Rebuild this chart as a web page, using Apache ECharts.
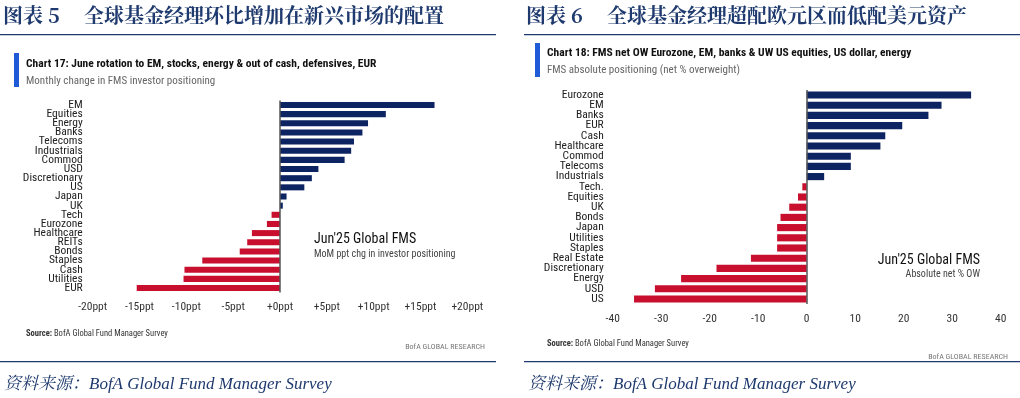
<!DOCTYPE html>
<html>
<head>
<meta charset="utf-8">
<script src="https://cdn.jsdelivr.net/npm/echarts@6/dist/echarts.min.js"></script>
<style>
  html, body { margin: 0; padding: 0; background: #fff; }
  #main { width: 1020px; height: 398px; }
</style>
</head>
<body>
<div id="main"></div>
<script>
// 图表5 数据：月度变化 (ppt)
var leftCats = ["EM", "Equities", "Energy", "Banks", "Telecoms", "Industrials", "Commod", "USD", "Discretionary", "US", "Japan", "UK", "Tech", "Eurozone", "Healthcare", "REITs", "Bonds", "Staples", "Cash", "Utilities", "EUR"];
var leftVals = [16.5, 11.3, 9.4, 8.8, 7.9, 7.6, 6.9, 4.1, 3.4, 2.6, 0.7, 0.3, -0.9, -1.4, -3.0, -3.5, -4.3, -8.3, -10.2, -10.3, -15.3];
var leftTicks = [-20, 20, 5];

// 图表6 数据：净超配比例 (%)
var rightCats = ["Eurozone", "EM", "Banks", "EUR", "Cash", "Healthcare", "Commod", "Telecoms", "Industrials", "Tech.", "Equities", "UK", "Bonds", "Japan", "Utilities", "Staples", "Real Estate", "Discretionary", "Energy", "USD", "US"];
var rightVals = [33.9, 27.8, 25.1, 19.7, 16.2, 15.2, 9.1, 9.1, 3.6, -0.9, -1.8, -3.6, -5.4, -6.1, -6.1, -6.1, -11.5, -18.6, -25.9, -31.3, -35.6];
var rightTicks = [-40, 40, 10];

(function() {
  var myChart = echarts.init(document.querySelector("#main"));

  var NAVY = "#0c2461";
  var RED = "#c8102e";
  var TITLE = "#1f3a6e";
  var narrow = "'Roboto Condensed', 'Roboto', sans-serif";
  var serifCn = "'Noto Serif CJK SC', 'Noto Sans CJK SC', serif";

  function barData(vals) {
    return vals.map(function(v) {
      return { value: v, itemStyle: { color: v >= 0 ? NAVY : RED } };
    });
  }

  function xAxisOf(idx, t, fmt, margin) {
    return {
      type: "value",
      gridIndex: idx,
      min: t[0],
      max: t[1],
      interval: t[2],
      axisLine: { show: false },
      axisTick: { show: false },
      splitLine: { show: false },
      axisLabel: {
        color: "#333",
        fontFamily: narrow,
        fontSize: 11.5,
        margin: margin,
        formatter: fmt
      }
    };
  }

  function yAxisOf(idx, cats, margin) {
    return {
      type: "category",
      gridIndex: idx,
      inverse: true,
      data: cats,
      axisLine: { show: false },
      axisTick: { show: false },
      axisLabel: {
        interval: 0,
        color: "#222",
        fontFamily: narrow,
        fontSize: 11.5,
        margin: margin
      }
    };
  }

  function zeroLine() {
    return {
      silent: true,
      symbol: "none",
      label: { show: false },
      lineStyle: { color: "#555", width: 1.5, type: "solid" },
      data: [{ xAxis: 0 }]
    };
  }

  function txt(x, y, text, font, fill, align) {
    return {
      type: "text",
      x: x,
      y: y,
      silent: true,
      style: {
        text: text,
        font: font,
        fill: fill,
        align: align || "left",
        verticalAlign: "middle"
      }
    };
  }

  function rect(x, y, w, h, color) {
    return {
      type: "rect",
      silent: true,
      shape: { x: x, y: y, width: w, height: h },
      style: { fill: color }
    };
  }

  // p: 每个面板的位置参数
  function panelGraphic(p) {
    var els = [];
    els.push(txt(p.numX, 15, "图表 " + p.num, "bold 20px " + serifCn, TITLE));
    els.push(txt(p.cnX, 15, p.cn, "bold 20px " + serifCn, TITLE));
    els.push(rect(p.lineX1, 34, p.lineX2 - p.lineX1, 1.3, TITLE));
    els.push(rect(p.accX, p.accY, 5, 34, "#1f5bd6"));
    els.push(txt(p.accX + 12, p.titleY, p.title, "bold 11.5px " + narrow, "#111"));
    els.push(txt(p.accX + 12, p.titleY + 17, p.sub, "11px " + narrow, "#666"));
    els.push({
      type: "text",
      x: p.accX + 12,
      y: p.srcY,
      silent: true,
      style: {
        text: "{b|Source:} BofA Global Fund Manager Survey",
        font: "8.5px " + narrow,
        fill: "#333",
        verticalAlign: "middle",
        rich: { b: { fontWeight: "bold", fontSize: 8.5, fontFamily: "Roboto Condensed" } }
      }
    });
    els.push(txt(p.brX, p.srcY + 13, "BofA GLOBAL RESEARCH", "8px " + narrow, "#777", "right"));
    els.push(rect(p.lineX1, 361, p.lineX2 - p.lineX1, 1.3, TITLE));
    els.push(txt(p.lineX1 + 4, 385, "资料来源：BofA Global Fund Manager Survey", "italic 17px 'Liberation Serif', " + serifCn, TITLE));
    return els;
  }

  var graphics = []
    .concat(panelGraphic({
      num: "5", numX: 3, cnX: 84, cn: "全球基金经理环比增加在新兴市场的配置",
      lineX1: 0, lineX2: 496, accX: 14, accY: 53, titleY: 64,
      title: "Chart 17: June rotation to EM, stocks, energy & out of cash, defensives, EUR",
      sub: "Monthly change in FMS investor positioning",
      srcY: 334, brX: 485
    }))
    .concat(panelGraphic({
      num: "6", numX: 526, cnX: 607, cn: "全球基金经理超配欧元区而低配美元资产",
      lineX1: 524, lineX2: 1020, accX: 535, accY: 43, titleY: 53,
      title: "Chart 18: FMS net OW Eurozone, EM, banks & UW US equities, US dollar, energy",
      sub: "FMS absolute positioning (net % overweight)",
      srcY: 344, brX: 1008
    }));

  graphics.push(txt(314, 239, "Jun'25 Global FMS", "14px " + narrow, "#111"));
  graphics.push(txt(314, 254, "MoM ppt chg in investor positioning", "10px " + narrow, "#444"));
  graphics.push(txt(980, 260, "Jun'25 Global FMS", "14px " + narrow, "#111", "right"));
  graphics.push(txt(980, 274, "Absolute net % OW", "10px " + narrow, "#444", "right"));

  var option = {
    backgroundColor: "#fff",
    animation: false,
    grid: [
      { left: 92.7, width: 374.6, top: 100.4, height: 192.2, containLabel: false },
      { left: 612.7, width: 388, top: 89.9, height: 214.2, containLabel: false }
    ],
    xAxis: [
      xAxisOf(0, leftTicks, function(v) { return (v >= 0 ? "+" : "") + v + "ppt"; }, 9),
      xAxisOf(1, rightTicks, function(v) { return v; }, 9)
    ],
    yAxis: [
      yAxisOf(0, leftCats, 10),
      yAxisOf(1, rightCats, 9)
    ],
    series: [
      {
        type: "bar",
        xAxisIndex: 0,
        yAxisIndex: 0,
        barWidth: "66%",
        data: barData(leftVals),
        markLine: zeroLine()
      },
      {
        type: "bar",
        xAxisIndex: 1,
        yAxisIndex: 1,
        barWidth: "70%",
        data: barData(rightVals),
        markLine: zeroLine()
      }
    ],
    graphic: graphics
  };

  myChart.setOption(option);
  window.addEventListener("resize", function() {
    myChart.resize();
  });
})();
</script>
</body>
</html>
